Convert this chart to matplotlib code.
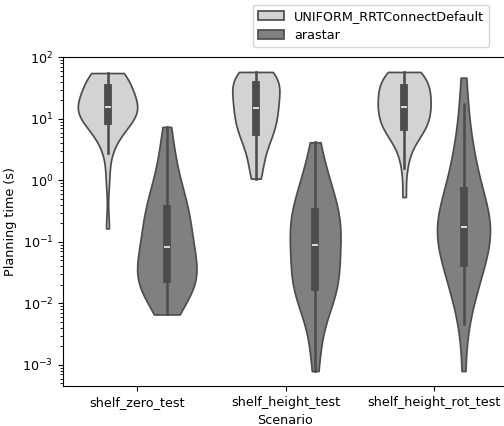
import numpy as np
import pandas as pd
import matplotlib
matplotlib.use('Agg')
import matplotlib.pyplot as plt
import seaborn as sns

plt.rcParams['font.size'] = 9.2

scenarios = ['shelf_zero_test', 'shelf_height_test', 'shelf_height_rot_test']
planners = ['UNIFORM_RRTConnectDefault', 'arastar']

# planning times in seconds
zero_rrt = [0.166, 1.05, 2.82, 3.98, 5.01, 6.03, 6.92, 7.76, 8.51, 8.91,
            9.33, 10.0, 10.7, 11.5, 12.3, 12.9, 13.5, 14.1, 14.8, 15.1,
            15.8, 16.6, 17.4, 18.2, 19.1, 20.4, 21.9, 24.0, 27.5, 31.6,
            34.7, 37.2, 39.8, 42.7, 45.2, 47.9, 50.1, 52.5, 54.3, 55.7]
zero_ara = [0.00661, 0.00851, 0.0105, 0.0126, 0.0148, 0.0170, 0.0191, 0.0209, 0.0224, 0.0240,
            0.0251, 0.0275, 0.0309, 0.0347, 0.0389, 0.0437, 0.0501, 0.0575, 0.0661, 0.0776,
            0.0891, 0.102, 0.117, 0.135, 0.155, 0.178, 0.209, 0.245, 0.288, 0.339,
            0.380, 0.447, 0.537, 0.661, 0.832, 1.12, 1.58, 2.40, 3.98, 7.41]
height_rrt = [1.07, 1.26, 1.66, 2.24, 2.88, 3.55, 4.17, 4.79, 5.37, 5.89,
              6.31, 7.08, 7.76, 8.51, 9.33, 10.2, 11.2, 12.3, 13.5, 14.5,
              15.1, 16.6, 18.2, 20.0, 21.9, 24.0, 26.3, 28.8, 31.6, 34.7,
              36.3, 38.9, 41.7, 44.7, 47.9, 50.1, 52.5, 55.0, 57.0, 58.0]
height_ara = [0.000794, 0.00178, 0.00355, 0.00603, 0.00871, 0.0110, 0.0132, 0.0151, 0.0170, 0.0182,
              0.0186, 0.0219, 0.0263, 0.0309, 0.0363, 0.0427, 0.0501, 0.0589, 0.0692, 0.0813,
              0.0977, 0.112, 0.129, 0.145, 0.162, 0.182, 0.204, 0.229, 0.263, 0.302,
              0.339, 0.398, 0.479, 0.575, 0.708, 0.871, 1.12, 1.51, 2.24, 4.17]
rot_rrt = [0.537, 1.58, 2.63, 3.63, 4.57, 5.37, 6.03, 6.61, 7.08, 7.24,
           7.41, 8.13, 8.91, 9.77, 10.7, 11.7, 12.6, 13.5, 14.5, 15.5,
           16.2, 17.0, 18.2, 19.5, 20.9, 22.9, 25.1, 27.5, 30.2, 31.6,
           33.1, 36.3, 39.8, 42.7, 45.7, 49.0, 51.3, 53.7, 56.2, 58.0]
rot_ara = [0.000794, 0.00468, 0.00794, 0.0120, 0.0166, 0.0219, 0.0275, 0.0339, 0.0398, 0.0437,
           0.0468, 0.0575, 0.0708, 0.0851, 0.100, 0.115, 0.129, 0.145, 0.158, 0.170,
           0.182, 0.195, 0.214, 0.234, 0.263, 0.302, 0.355, 0.427, 0.513, 0.617,
           0.813, 1.00, 1.26, 1.62, 2.14, 2.95, 4.37, 7.94, 17.8, 46.8]

groups = {
    ('shelf_zero_test', 'UNIFORM_RRTConnectDefault'): zero_rrt,
    ('shelf_zero_test', 'arastar'): zero_ara,
    ('shelf_height_test', 'UNIFORM_RRTConnectDefault'): height_rrt,
    ('shelf_height_test', 'arastar'): height_ara,
    ('shelf_height_rot_test', 'UNIFORM_RRTConnectDefault'): rot_rrt,
    ('shelf_height_rot_test', 'arastar'): rot_ara,
}

rows = []
for (scen, planner), times in groups.items():
    for t in times:
        rows.append({'Scenario': scen, 'Planner': planner, 'Planning time (s)': t})
df = pd.DataFrame(rows)

fig = plt.figure(figsize=(5.04, 4.26), dpi=100)
ax = fig.add_axes([63/504, 40/426, 445/504, 329/426])

sns.violinplot(data=df, x='Scenario', y='Planning time (s)', hue='Planner',
               order=scenarios, hue_order=planners, palette=['lightgray', 'gray'],
               log_scale=True, cut=0, ax=ax)

handles, labels = ax.get_legend_handles_labels()
ax.legend(handles, labels, loc='lower right', bbox_to_anchor=(0.958, 1.03),
          borderaxespad=0)

plt.savefig('out.png', dpi=100)
